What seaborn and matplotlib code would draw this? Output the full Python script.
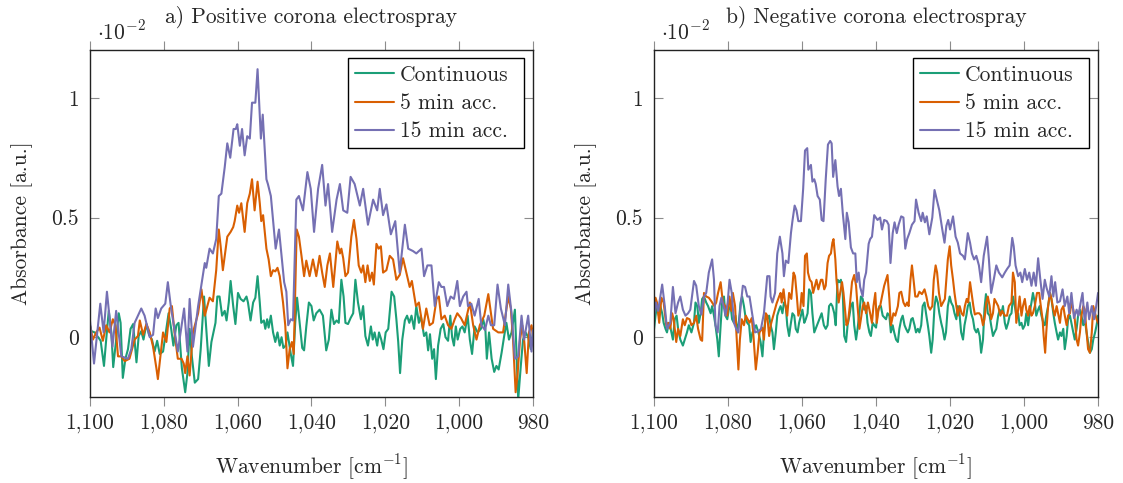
import matplotlib
matplotlib.use("Agg")
import matplotlib.pyplot as plt
from matplotlib.ticker import FuncFormatter, FixedLocator
import pandas as pd
import seaborn as sns

# ---------------- data (absorbance in units of 1e-2) ----------------
series_names = ["Continuous", "5 min acc.", "15 min acc."]
line_colors = ["#1b9e77", "#d95f02", "#7570b3"]
panel_titles = ["a) Positive corona electrospray", "b) Negative corona electrospray"]
x_ticks = [1100, 1080, 1060, 1040, 1020, 1000, 980]
y_ticks = [0, 0.5, 1]

pos_cont = [(1100.0, 0.05), (1099.6, 0.025), (1098.7, 0.02), (1097.8, 0.0), (1097.1, -0.015), (1096.2, -0.12), (1095.6, -0.01), (1094.9, 0.11), (1094.2, 0.02), (1093.7, -0.125), (1092.9, -0.01), (1092.2, 0.10), (1091.7, 0.06), (1091.1, -0.17), (1090.4, -0.09), (1089.7, -0.05), (1089.0, 0.035), (1088.3, 0.055), (1087.4, -0.105), (1086.8, 0.005), (1086.1, 0.025), (1085.5, -0.01), (1084.7, 0.055), (1084.0, 0.01), (1083.2, -0.01), (1082.5, -0.06), (1081.8, -0.015), (1081.1, -0.07), (1080.2, -0.06), (1079.6, 0.005), (1078.7, 0.10), (1078.0, 0.035), (1077.4, -0.035), (1076.6, 0.05), (1076.0, 0.06), (1075.1, -0.13), (1074.2, -0.23), (1073.6, -0.15), (1073.0, 0.035), (1072.4, -0.08), (1071.6, -0.19), (1070.7, -0.175), (1070.0, -0.05), (1069.6, 0.05), (1069.1, 0.17), (1068.5, 0.035), (1067.8, -0.12), (1067.1, -0.02), (1066.0, 0.06), (1065.5, 0.17), (1064.9, 0.17), (1064.2, 0.09), (1063.5, 0.11), (1063.0, 0.07), (1062.4, 0.145), (1061.9, 0.235), (1061.2, 0.13), (1060.6, 0.055), (1059.9, 0.185), (1059.2, 0.16), (1058.4, 0.15), (1057.6, 0.17), (1057.2, 0.145), (1056.5, 0.07), (1055.8, 0.145), (1055.2, 0.165), (1054.6, 0.255), (1054.0, 0.145), (1053.6, 0.06), (1052.9, 0.07), (1052.5, 0.035), (1052.0, 0.075), (1051.6, 0.04), (1051.0, 0.09), (1050.4, 0.02), (1049.8, -0.02), (1049.2, 0.02), (1048.6, -0.035), (1048.1, 0.0), (1047.6, -0.045), (1047.0, -0.035), (1046.5, 0.02), (1046.1, -0.02), (1045.6, -0.07), (1045.0, -0.12), (1044.4, 0.06), (1043.9, 0.165), (1043.2, 0.06), (1042.5, -0.045), (1042.0, -0.055), (1041.4, 0.045), (1040.7, 0.145), (1040.0, 0.13), (1039.4, 0.07), (1038.7, 0.10), (1037.8, 0.115), (1036.9, 0.09), (1036.0, -0.055), (1035.3, -0.01), (1034.6, 0.115), (1033.9, 0.055), (1033.2, 0.07), (1032.6, 0.06), (1031.9, 0.24), (1031.3, 0.17), (1030.8, 0.06), (1030.1, 0.055), (1029.4, 0.08), (1028.7, 0.10), (1028.1, 0.24), (1027.4, 0.145), (1026.6, 0.075), (1026.0, 0.13), (1025.4, 0.005), (1024.7, -0.035), (1023.9, 0.045), (1023.4, -0.01), (1022.9, 0.02), (1022.2, -0.035), (1021.7, 0.02), (1021.1, -0.01), (1020.5, -0.05), (1019.9, 0.02), (1019.2, 0.035), (1018.3, 0.19), (1017.6, 0.17), (1017.0, 0.075), (1016.5, -0.02), (1016.0, -0.15), (1015.4, -0.01), (1014.7, 0.07), (1014.1, 0.09), (1013.5, 0.06), (1012.9, 0.09), (1012.2, 0.035), (1011.6, 0.13), (1010.9, 0.06), (1010.4, 0.09), (1009.5, 0.005), (1008.9, 0.02), (1008.4, -0.055), (1007.9, 0.0125), (1007.3, -0.09), (1006.8, -0.05), (1006.3, -0.175), (1005.7, -0.035), (1005.0, 0.035), (1004.3, 0.055), (1003.7, 0.0), (1003.0, -0.015), (1002.4, 0.09), (1001.9, 0.0), (1001.4, -0.035), (1000.9, 0.045), (1000.4, -0.01), (999.7, 0.035), (999.1, 0.045), (998.5, 0.02), (997.7, 0.09), (997.1, -0.01), (996.5, -0.07), (995.8, 0.045), (995.0, 0.02), (994.1, 0.035), (993.5, 0.075), (992.9, 0.035), (992.5, -0.09), (991.9, 0.02), (991.2, -0.09), (990.5, -0.145), (989.9, -0.12), (989.3, -0.135), (988.5, -0.065), (987.8, 0.005), (987.2, 0.06), (986.5, -0.01), (985.8, 0.02), (984.9, 0.115), (984.0, -0.26), (983.3, -0.12), (982.7, -0.01), (982.0, 0.02), (981.3, 0.0), (980.6, -0.05), (980.0, 0.02)]

pos_5min = [(1100.0, 0.05), (1099.2, -0.01), (1098.3, 0.02), (1097.4, 0.04), (1096.5, -0.015), (1095.6, 0.05), (1094.7, 0.02), (1093.8, 0.075), (1093.1, 0.05), (1092.4, -0.08), (1091.5, -0.08), (1090.6, -0.10), (1089.3, -0.09), (1087.9, -0.01), (1087.0, 0.005), (1086.5, 0.07), (1085.6, 0.01), (1084.7, 0.055), (1083.8, 0.02), (1082.9, -0.04), (1082.0, -0.13), (1081.6, -0.175), (1080.2, 0.02), (1079.3, -0.02), (1078.4, 0.12), (1077.8, 0.13), (1077.1, 0.02), (1076.2, -0.09), (1075.2, -0.09), (1074.6, -0.11), (1074.2, -0.15), (1073.6, -0.08), (1073.0, -0.16), (1072.1, 0.02), (1070.7, 0.10), (1069.8, 0.20), (1068.9, 0.09), (1067.6, 0.165), (1066.7, 0.15), (1065.8, 0.28), (1065.1, 0.45), (1064.6, 0.38), (1064.0, 0.28), (1062.8, 0.42), (1061.9, 0.44), (1061.2, 0.46), (1060.8, 0.485), (1060.1, 0.55), (1059.6, 0.52), (1059.0, 0.56), (1058.1, 0.44), (1057.4, 0.56), (1056.7, 0.60), (1056.1, 0.66), (1055.4, 0.53), (1054.6, 0.65), (1054.0, 0.56), (1053.6, 0.485), (1053.1, 0.51), (1052.2, 0.37), (1051.6, 0.325), (1051.0, 0.255), (1050.4, 0.28), (1049.8, 0.275), (1049.2, 0.29), (1048.6, 0.255), (1047.7, 0.145), (1047.1, 0.05), (1046.5, -0.13), (1045.9, -0.05), (1045.3, -0.02), (1044.8, -0.07), (1044.0, 0.45), (1043.4, 0.42), (1042.7, 0.34), (1042.0, 0.255), (1041.4, 0.32), (1040.5, 0.255), (1039.6, 0.325), (1038.7, 0.255), (1037.8, 0.34), (1037.1, 0.27), (1036.4, 0.21), (1035.7, 0.30), (1035.0, 0.35), (1034.1, 0.21), (1033.0, 0.40), (1032.3, 0.35), (1031.9, 0.37), (1031.4, 0.33), (1030.8, 0.255), (1030.1, 0.27), (1029.2, 0.42), (1028.5, 0.49), (1027.8, 0.41), (1027.2, 0.30), (1026.5, 0.27), (1026.0, 0.30), (1025.4, 0.23), (1024.8, 0.30), (1024.2, 0.235), (1023.6, 0.27), (1023.1, 0.22), (1022.4, 0.39), (1021.8, 0.37), (1021.2, 0.38), (1020.6, 0.27), (1019.7, 0.28), (1018.8, 0.34), (1017.9, 0.325), (1017.0, 0.24), (1016.1, 0.26), (1015.2, 0.33), (1014.3, 0.27), (1013.4, 0.21), (1012.8, 0.235), (1011.7, 0.13), (1010.9, 0.145), (1010.2, 0.075), (1009.8, 0.035), (1008.9, 0.12), (1008.0, 0.05), (1007.1, 0.06), (1006.1, 0.16), (1005.5, 0.17), (1004.8, 0.075), (1003.9, 0.09), (1003.0, 0.05), (1002.1, 0.035), (1001.2, 0.075), (1000.5, 0.10), (999.5, 0.08), (998.5, 0.05), (997.1, 0.145), (996.2, 0.05), (995.3, -0.01), (994.4, 0.05), (993.2, 0.09), (992.1, 0.18), (990.8, 0.035), (989.4, 0.02), (988.1, 0.02), (986.7, 0.17), (986.0, 0.12), (985.4, -0.01), (984.7, -0.23), (984.2, -0.16), (983.5, -0.01), (982.9, 0.05), (982.4, -0.01), (981.7, -0.15), (981.1, 0.02), (980.4, 0.05), (980.0, 0.005)]

pos_15min = [(1100.0, 0.07), (1098.9, -0.11), (1097.2, 0.14), (1096.3, 0.02), (1095.4, 0.19), (1093.9, -0.04), (1092.9, 0.11), (1091.5, -0.08), (1089.7, -0.09), (1088.8, -0.05), (1087.9, 0.06), (1086.1, 0.12), (1085.2, 0.09), (1083.8, 0.0), (1082.9, 0.01), (1082.2, 0.12), (1081.6, 0.08), (1080.7, 0.12), (1079.6, 0.14), (1078.9, 0.23), (1078.1, 0.13), (1076.2, -0.06), (1074.5, 0.12), (1073.6, -0.06), (1073.0, 0.16), (1072.1, -0.04), (1070.7, 0.13), (1068.9, 0.31), (1068.5, 0.29), (1067.6, 0.37), (1066.7, 0.35), (1065.8, 0.41), (1065.1, 0.59), (1064.4, 0.60), (1063.5, 0.71), (1062.8, 0.81), (1062.0, 0.75), (1061.1, 0.87), (1060.5, 0.87), (1060.1, 0.89), (1059.4, 0.80), (1058.8, 0.87), (1058.1, 0.76), (1057.4, 0.84), (1056.7, 0.83), (1056.1, 0.98), (1055.2, 0.98), (1054.6, 1.12), (1053.7, 0.83), (1053.2, 0.93), (1052.2, 0.66), (1051.8, 0.64), (1051.0, 0.59), (1049.7, 0.37), (1048.8, 0.45), (1047.4, 0.23), (1046.8, 0.19), (1046.3, 0.05), (1045.6, 0.075), (1045.0, 0.07), (1044.1, 0.575), (1043.4, 0.59), (1042.3, 0.53), (1041.1, 0.69), (1040.2, 0.62), (1039.3, 0.44), (1038.2, 0.62), (1037.1, 0.72), (1036.2, 0.55), (1035.5, 0.64), (1034.4, 0.44), (1033.2, 0.575), (1032.3, 0.64), (1031.4, 0.53), (1030.3, 0.52), (1029.4, 0.67), (1028.3, 0.64), (1026.9, 0.55), (1026.0, 0.62), (1024.7, 0.47), (1023.3, 0.575), (1022.2, 0.53), (1021.5, 0.62), (1020.6, 0.51), (1019.7, 0.555), (1018.5, 0.43), (1017.3, 0.485), (1016.1, 0.27), (1014.7, 0.47), (1013.8, 0.37), (1012.5, 0.36), (1011.6, 0.35), (1010.2, 0.37), (1009.5, 0.255), (1008.6, 0.30), (1007.5, 0.30), (1006.6, 0.13), (1005.5, 0.23), (1004.8, 0.21), (1004.1, 0.21), (1003.2, 0.13), (1002.3, 0.17), (1001.4, 0.16), (1000.5, 0.235), (999.8, 0.13), (998.9, 0.17), (998.0, 0.19), (997.6, 0.13), (996.7, 0.14), (995.8, 0.09), (994.7, 0.16), (994.0, 0.05), (993.0, 0.03), (992.1, 0.09), (991.4, 0.05), (990.5, 0.05), (989.6, 0.22), (988.7, 0.12), (987.6, 0.05), (986.7, 0.22), (985.8, 0.10), (984.9, -0.09), (984.0, -0.08), (983.1, 0.09), (982.4, -0.01), (981.3, 0.09), (980.4, -0.06), (980.0, 0.03)]

neg_cont = [(1100.0, 0.035), (1099.6, 0.09), (1099.2, 0.13), (1098.7, 0.09), (1098.3, 0.13), (1097.8, 0.10), (1097.4, 0.06), (1096.9, 0.035), (1096.5, 0.02), (1096.0, 0.06), (1095.5, 0.035), (1094.9, -0.01), (1094.4, 0.075), (1093.9, 0.09), (1093.5, 0.035), (1092.9, -0.01), (1092.2, -0.035), (1091.7, -0.01), (1091.1, 0.02), (1090.6, 0.05), (1089.9, 0.02), (1089.2, 0.06), (1088.8, 0.145), (1088.3, 0.13), (1087.9, 0.06), (1087.4, 0.10), (1087.0, 0.16), (1086.5, 0.17), (1085.9, 0.145), (1085.4, 0.13), (1084.7, 0.10), (1084.3, 0.13), (1083.8, 0.09), (1083.4, 0.05), (1082.9, -0.01), (1082.5, -0.08), (1082.0, 0.05), (1081.6, 0.145), (1081.1, 0.17), (1080.7, 0.09), (1080.2, 0.075), (1079.8, 0.115), (1079.3, 0.13), (1078.9, 0.075), (1078.4, 0.06), (1078.0, 0.09), (1077.5, 0.02), (1077.1, 0.06), (1076.6, 0.145), (1076.2, 0.17), (1075.7, 0.13), (1075.2, 0.075), (1074.8, 0.06), (1074.3, 0.05), (1073.9, -0.02), (1073.4, 0.02), (1072.9, 0.035), (1072.4, 0.05), (1071.8, 0.02), (1071.2, -0.02), (1070.7, -0.08), (1070.3, 0.02), (1069.8, 0.09), (1069.4, 0.075), (1068.9, 0.09), (1068.5, 0.05), (1068.0, 0.02), (1067.6, -0.05), (1067.1, 0.02), (1066.7, 0.09), (1066.2, 0.115), (1065.8, 0.13), (1065.3, 0.10), (1064.9, 0.145), (1064.4, 0.13), (1064.0, 0.05), (1063.5, 0.005), (1063.1, 0.05), (1062.6, 0.10), (1062.1, 0.09), (1061.7, 0.035), (1061.2, 0.02), (1060.8, 0.06), (1060.3, 0.09), (1059.9, 0.115), (1059.4, 0.06), (1059.0, 0.075), (1058.5, 0.10), (1058.1, 0.20), (1057.6, 0.185), (1057.2, 0.10), (1056.7, 0.02), (1056.3, 0.035), (1055.7, 0.06), (1055.2, 0.08), (1054.7, 0.10), (1054.1, 0.05), (1053.6, 0.035), (1053.1, 0.05), (1052.7, 0.13), (1052.2, 0.14), (1051.8, 0.13), (1051.3, 0.10), (1050.9, 0.05), (1050.4, 0.24), (1049.9, 0.23), (1049.5, 0.24), (1049.0, 0.185), (1048.6, 0.005), (1048.1, -0.02), (1047.7, 0.05), (1047.2, 0.09), (1046.8, 0.13), (1046.3, 0.145), (1045.9, 0.05), (1045.4, -0.01), (1045.0, 0.035), (1044.5, 0.10), (1044.1, 0.17), (1043.6, 0.16), (1043.2, 0.115), (1042.7, 0.13), (1042.3, 0.06), (1041.8, 0.02), (1041.4, 0.005), (1040.9, 0.06), (1040.5, 0.05), (1040.0, 0.04), (1039.6, 0.10), (1039.1, 0.13), (1038.7, 0.13), (1038.2, 0.09), (1037.3, 0.075), (1036.9, 0.10), (1036.4, 0.09), (1036.0, 0.02), (1035.5, 0.05), (1035.1, 0.02), (1034.6, -0.01), (1034.1, -0.02), (1033.7, 0.035), (1033.2, 0.075), (1032.8, 0.09), (1032.3, 0.05), (1031.9, 0.035), (1031.4, 0.02), (1031.0, 0.035), (1030.5, 0.075), (1030.1, 0.08), (1029.6, 0.05), (1029.2, 0.02), (1028.7, 0.035), (1028.3, 0.02), (1027.8, 0.05), (1027.4, 0.13), (1026.9, 0.145), (1026.5, 0.10), (1026.0, 0.05), (1025.6, 0.005), (1025.1, -0.065), (1024.7, -0.01), (1024.2, 0.13), (1023.8, 0.17), (1023.3, 0.145), (1022.9, 0.10), (1022.4, 0.06), (1022.0, 0.035), (1021.5, -0.01), (1021.1, 0.02), (1020.6, 0.13), (1020.1, 0.17), (1019.7, 0.145), (1019.2, 0.13), (1018.8, 0.10), (1018.3, 0.075), (1017.9, 0.13), (1017.4, 0.09), (1017.0, 0.02), (1016.5, -0.01), (1016.1, 0.05), (1015.6, 0.09), (1015.2, 0.13), (1014.7, 0.145), (1014.3, 0.10), (1013.8, 0.075), (1013.4, 0.035), (1012.9, 0.02), (1012.5, 0.035), (1012.0, 0.005), (1011.6, -0.065), (1011.1, -0.01), (1010.7, 0.12), (1010.3, 0.18), (1009.8, 0.10), (1009.3, 0.09), (1008.9, 0.05), (1008.4, 0.005), (1008.0, 0.02), (1007.5, 0.035), (1007.0, 0.09), (1006.6, 0.115), (1006.1, 0.10), (1005.7, 0.13), (1005.2, 0.06), (1004.8, 0.035), (1004.3, 0.06), (1003.9, 0.09), (1003.4, 0.10), (1003.0, 0.17), (1002.5, 0.13), (1002.1, 0.09), (1001.6, 0.10), (1001.2, 0.05), (1000.7, 0.06), (1000.3, 0.035), (999.8, 0.05), (999.4, 0.10), (998.9, 0.05), (998.5, 0.10), (998.0, 0.145), (997.6, 0.185), (997.1, 0.145), (996.7, 0.09), (996.2, 0.115), (995.8, 0.13), (995.3, 0.09), (994.8, 0.06), (994.4, 0.05), (994.0, 0.09), (993.5, 0.13), (993.0, 0.185), (992.6, 0.16), (992.1, 0.10), (991.7, 0.06), (991.2, 0.02), (990.8, -0.01), (990.3, 0.02), (989.9, 0.005), (989.4, 0.035), (989.0, -0.05), (988.5, 0.005), (988.1, 0.075), (987.6, 0.09), (987.2, 0.06), (986.7, 0.02), (986.3, -0.01), (985.8, 0.035), (985.4, 0.09), (984.9, 0.115), (984.5, 0.09), (984.0, 0.05), (983.6, 0.075), (983.1, 0.02), (982.7, -0.02), (982.2, -0.065), (981.7, -0.05), (981.3, -0.01), (980.8, 0.02), (980.4, 0.05), (980.0, 0.09)]

neg_5min = [(1100.0, 0.13), (1099.6, 0.165), (1099.2, 0.145), (1098.6, 0.06), (1098.0, 0.165), (1097.4, 0.145), (1096.7, 0.05), (1096.2, 0.06), (1095.6, 0.035), (1095.1, 0.10), (1094.7, 0.075), (1094.0, -0.02), (1093.5, 0.035), (1092.9, 0.005), (1092.2, 0.075), (1091.7, 0.05), (1091.1, 0.08), (1090.4, 0.075), (1089.9, 0.05), (1089.2, 0.06), (1088.6, 0.09), (1088.1, 0.035), (1087.4, -0.01), (1087.0, -0.015), (1086.5, 0.185), (1085.9, 0.17), (1085.2, 0.165), (1084.5, 0.15), (1083.7, 0.13), (1083.2, 0.145), (1082.7, 0.185), (1082.0, 0.23), (1081.4, 0.145), (1080.8, 0.13), (1080.2, 0.09), (1079.6, 0.17), (1079.1, 0.11), (1078.7, 0.185), (1078.1, 0.13), (1077.8, 0.035), (1077.2, -0.135), (1076.8, -0.01), (1076.3, 0.075), (1075.7, 0.05), (1075.2, 0.09), (1074.7, 0.075), (1074.2, 0.06), (1073.6, 0.08), (1073.2, 0.02), (1072.5, -0.135), (1072.0, -0.065), (1071.5, 0.02), (1070.7, 0.04), (1070.3, -0.01), (1069.8, 0.10), (1069.4, 0.09), (1068.9, 0.005), (1068.4, 0.055), (1067.6, 0.10), (1066.9, 0.14), (1066.2, 0.17), (1065.8, 0.185), (1065.5, 0.145), (1065.0, 0.20), (1064.6, 0.145), (1064.0, 0.09), (1063.5, 0.185), (1062.9, 0.16), (1062.3, 0.27), (1061.9, 0.255), (1061.4, 0.17), (1061.0, 0.09), (1060.5, 0.115), (1060.1, 0.185), (1059.6, 0.13), (1059.2, 0.34), (1058.7, 0.35), (1058.4, 0.27), (1057.9, 0.24), (1057.4, 0.23), (1057.0, 0.185), (1056.5, 0.215), (1056.1, 0.24), (1055.6, 0.20), (1054.9, 0.24), (1054.5, 0.24), (1054.0, 0.20), (1053.6, 0.215), (1053.1, 0.31), (1052.7, 0.34), (1052.2, 0.35), (1051.8, 0.395), (1051.5, 0.41), (1051.0, 0.325), (1050.7, 0.24), (1050.1, 0.145), (1049.7, 0.185), (1049.2, 0.23), (1048.8, 0.185), (1048.3, 0.10), (1048.0, 0.05), (1047.6, 0.06), (1047.1, 0.13), (1046.5, 0.23), (1045.9, 0.26), (1045.4, 0.215), (1045.0, 0.13), (1044.5, 0.035), (1044.1, 0.075), (1043.6, 0.13), (1043.2, 0.145), (1042.7, 0.10), (1042.2, 0.145), (1041.6, 0.10), (1041.1, 0.06), (1040.7, 0.13), (1040.2, 0.185), (1039.8, 0.06), (1039.3, 0.12), (1038.9, 0.13), (1038.4, 0.17), (1037.8, 0.215), (1037.3, 0.24), (1036.9, 0.26), (1036.4, 0.16), (1036.0, 0.05), (1035.3, 0.10), (1034.8, 0.09), (1034.1, 0.13), (1033.7, 0.185), (1033.2, 0.19), (1032.6, 0.145), (1032.1, 0.13), (1031.6, 0.145), (1031.2, 0.13), (1030.7, 0.24), (1030.3, 0.30), (1029.8, 0.23), (1029.4, 0.17), (1028.8, 0.17), (1028.3, 0.19), (1027.6, 0.18), (1026.9, 0.20), (1026.4, 0.17), (1025.9, 0.13), (1025.4, 0.115), (1024.8, 0.13), (1024.4, 0.24), (1023.9, 0.30), (1023.5, 0.27), (1023.0, 0.185), (1022.4, 0.13), (1021.9, 0.145), (1021.4, 0.16), (1021.0, 0.24), (1020.6, 0.325), (1020.1, 0.38), (1019.7, 0.30), (1019.2, 0.24), (1018.8, 0.185), (1018.3, 0.13), (1017.9, 0.09), (1017.4, 0.13), (1016.9, 0.10), (1016.4, 0.09), (1016.0, 0.13), (1015.5, 0.16), (1015.1, 0.145), (1014.6, 0.23), (1014.2, 0.185), (1013.7, 0.13), (1013.3, 0.095), (1012.7, 0.10), (1012.1, 0.10), (1011.6, 0.09), (1011.1, 0.05), (1010.7, 0.075), (1010.2, 0.145), (1009.8, 0.17), (1009.3, 0.13), (1008.9, 0.075), (1008.4, 0.10), (1008.0, 0.16), (1007.5, 0.145), (1007.0, 0.13), (1006.4, 0.09), (1005.9, 0.11), (1005.2, 0.09), (1004.6, 0.09), (1004.1, 0.13), (1003.4, 0.145), (1003.0, 0.27), (1002.5, 0.23), (1002.1, 0.06), (1001.6, 0.115), (1001.2, 0.17), (1000.7, 0.09), (1000.3, 0.13), (999.8, 0.16), (999.4, 0.115), (998.9, 0.09), (998.5, 0.13), (998.0, 0.09), (997.6, 0.10), (997.1, 0.13), (996.5, 0.185), (995.9, 0.185), (995.6, 0.145), (995.0, 0.075), (994.7, 0.005), (994.3, -0.065), (994.0, 0.02), (993.5, 0.13), (993.0, 0.185), (992.6, 0.16), (992.1, 0.115), (991.7, 0.09), (991.2, 0.13), (990.8, 0.10), (990.3, 0.06), (989.9, 0.115), (989.4, 0.13), (989.0, 0.09), (988.5, 0.05), (988.1, 0.09), (987.6, 0.10), (987.2, 0.145), (986.7, 0.115), (986.3, 0.075), (985.8, -0.01), (985.4, -0.035), (984.9, 0.02), (984.5, 0.09), (984.0, 0.13), (983.6, 0.115), (983.1, 0.02), (982.7, -0.05), (982.2, -0.065), (981.7, 0.02), (981.3, 0.13), (980.8, 0.10), (980.4, 0.075), (980.0, 0.06)]

neg_15min = [(1100.0, 0.09), (1099.5, 0.145), (1098.9, 0.11), (1097.8, 0.22), (1097.1, 0.13), (1096.5, 0.035), (1095.6, 0.06), (1094.9, 0.21), (1094.2, 0.10), (1093.5, 0.145), (1092.9, 0.17), (1092.2, 0.115), (1091.5, 0.09), (1090.8, 0.10), (1090.2, 0.115), (1089.2, 0.235), (1088.6, 0.215), (1087.9, 0.13), (1087.2, 0.095), (1086.5, 0.17), (1085.9, 0.185), (1085.2, 0.27), (1084.3, 0.325), (1083.8, 0.24), (1083.4, 0.05), (1082.8, 0.02), (1082.3, 0.13), (1081.8, 0.165), (1081.2, 0.13), (1080.7, 0.09), (1080.1, 0.145), (1079.6, 0.24), (1079.0, 0.185), (1078.4, 0.06), (1077.8, 0.035), (1077.2, 0.02), (1076.6, 0.13), (1076.0, 0.215), (1075.4, 0.21), (1074.8, 0.17), (1074.2, 0.17), (1073.4, 0.09), (1072.7, 0.02), (1071.8, 0.025), (1071.1, 0.035), (1070.3, 0.10), (1069.4, 0.255), (1068.8, 0.255), (1068.5, 0.17), (1068.0, 0.145), (1067.3, 0.185), (1066.7, 0.35), (1066.0, 0.42), (1065.3, 0.35), (1064.9, 0.255), (1064.4, 0.32), (1063.7, 0.31), (1063.0, 0.435), (1062.6, 0.485), (1062.0, 0.55), (1061.5, 0.53), (1061.0, 0.485), (1060.3, 0.485), (1059.7, 0.62), (1059.2, 0.78), (1058.6, 0.79), (1058.3, 0.70), (1057.6, 0.72), (1057.2, 0.65), (1056.7, 0.66), (1056.3, 0.64), (1055.8, 0.59), (1055.2, 0.575), (1054.7, 0.49), (1054.2, 0.485), (1053.6, 0.66), (1053.0, 0.805), (1052.4, 0.82), (1052.0, 0.81), (1051.6, 0.67), (1051.0, 0.74), (1050.4, 0.63), (1050.0, 0.59), (1049.5, 0.62), (1049.0, 0.52), (1048.3, 0.41), (1047.9, 0.52), (1047.4, 0.48), (1046.8, 0.375), (1046.2, 0.35), (1045.6, 0.35), (1045.2, 0.23), (1044.7, 0.27), (1044.3, 0.21), (1043.6, 0.17), (1043.2, 0.24), (1042.7, 0.27), (1042.0, 0.39), (1041.6, 0.41), (1041.1, 0.42), (1040.5, 0.51), (1039.6, 0.49), (1038.9, 0.50), (1038.4, 0.45), (1037.8, 0.49), (1037.1, 0.485), (1036.6, 0.47), (1036.1, 0.31), (1035.5, 0.435), (1035.0, 0.48), (1034.4, 0.435), (1033.9, 0.47), (1033.2, 0.505), (1032.6, 0.50), (1032.1, 0.37), (1031.6, 0.41), (1031.0, 0.435), (1030.3, 0.47), (1029.6, 0.485), (1029.2, 0.575), (1028.5, 0.52), (1027.8, 0.485), (1027.4, 0.52), (1026.8, 0.48), (1026.3, 0.505), (1025.6, 0.43), (1024.8, 0.50), (1024.2, 0.615), (1023.6, 0.575), (1022.9, 0.53), (1022.1, 0.45), (1021.5, 0.395), (1021.0, 0.465), (1020.5, 0.49), (1020.0, 0.45), (1019.2, 0.505), (1018.5, 0.42), (1017.9, 0.395), (1017.3, 0.35), (1016.5, 0.34), (1016.0, 0.325), (1015.2, 0.435), (1014.6, 0.395), (1014.1, 0.35), (1013.5, 0.325), (1012.9, 0.34), (1012.2, 0.30), (1011.6, 0.23), (1010.9, 0.34), (1010.0, 0.42), (1009.5, 0.325), (1008.9, 0.185), (1008.2, 0.24), (1007.5, 0.30), (1006.8, 0.27), (1005.9, 0.25), (1005.2, 0.27), (1004.6, 0.285), (1003.9, 0.30), (1003.2, 0.415), (1002.8, 0.38), (1002.3, 0.30), (1001.6, 0.255), (1001.0, 0.27), (1000.5, 0.23), (999.8, 0.285), (999.2, 0.24), (998.6, 0.27), (998.0, 0.215), (997.4, 0.27), (996.8, 0.215), (996.2, 0.33), (995.6, 0.24), (995.0, 0.16), (994.4, 0.24), (993.9, 0.205), (993.2, 0.17), (992.6, 0.255), (992.1, 0.17), (991.6, 0.23), (991.0, 0.145), (990.3, 0.15), (989.6, 0.20), (989.0, 0.13), (988.3, 0.17), (987.8, 0.10), (987.2, 0.185), (986.5, 0.08), (985.8, 0.115), (985.3, 0.09), (984.7, 0.145), (984.2, 0.185), (983.6, 0.06), (982.9, 0.145), (982.4, 0.075), (981.7, 0.13), (981.1, 0.075), (980.5, 0.13), (980.0, 0.185)]

panels = [[pos_cont, pos_5min, pos_15min], [neg_cont, neg_5min, neg_15min]]

# ---------------- style ----------------
sns.set_theme(style="white")
plt.rcParams["font.family"] = ["cmr10", "DejaVu Serif"]
plt.rcParams["mathtext.fontset"] = "cm"
plt.rcParams["axes.formatter.use_mathtext"] = True
plt.rcParams["axes.unicode_minus"] = False
FS = 15.5

fig = plt.figure(figsize=(11.23, 4.83), dpi=100)
ax_rects = [[0.0801, 0.178, 0.3945, 0.7184], [0.5824, 0.178, 0.3954, 0.7184]]

for rect, title, data in zip(ax_rects, panel_titles, panels):
    ax = fig.add_axes(rect)
    frames = []
    for name, pairs in zip(series_names, data):
        w, a = zip(*pairs)
        frames.append(pd.DataFrame({"w": w, "a": a, "series": name}))
    df = pd.concat(frames, ignore_index=True)
    sns.lineplot(data=df, x="w", y="a", hue="series", hue_order=series_names,
                 palette=line_colors, estimator=None, sort=True, linewidth=1.5,
                 ax=ax)
    ax.set_xlim(1100, 980)
    ax.set_ylim(-0.25, 1.2)
    ax.xaxis.set_major_locator(FixedLocator(x_ticks))
    ax.yaxis.set_major_locator(FixedLocator(y_ticks))
    ax.xaxis.set_major_formatter(FuncFormatter(lambda v, p: f"{v:,.0f}"))
    ax.yaxis.set_major_formatter(FuncFormatter(lambda v, p: f"{v:g}"))
    ax.tick_params(axis="x", which="major", direction="out", length=6.5, width=0.8,
                   color="#8c8c8c", top=True, bottom=True, labelsize=FS, pad=5)
    ax.tick_params(axis="y", which="major", direction="in", length=6.5, width=0.8,
                   color="#8c8c8c", left=True, right=True, labelsize=FS, pad=8)
    for sp in ax.spines.values():
        sp.set_visible(True)
        sp.set_color("#222222")
        sp.set_linewidth(1.0)
    ax.set_xlabel(r"Wavenumber [cm$^{-1}$]", fontsize=FS)
    ax.xaxis.set_label_coords(0.5, -0.16)
    ax.set_ylabel("Absorbance [a.u.]", fontsize=FS)
    ax.yaxis.set_label_coords(-0.128, 0.5)
    ax.set_title(title, fontsize=FS, pad=20)
    ax.text(0.016, 1.03, r"$\cdot 10^{-2}$", transform=ax.transAxes,
            fontsize=FS, va="baseline", ha="left")
    handles, labels = ax.get_legend_handles_labels()
    leg = ax.legend(handles, labels, loc="upper left",
                    bbox_to_anchor=(0.583, 0.717, 0.397, 0.259), mode="expand",
                    borderaxespad=0, fontsize=FS, frameon=True,
                    fancybox=False, edgecolor="black", framealpha=1,
                    handlelength=1.8, handletextpad=0.28, labelspacing=0.4,
                    borderpad=0.33)
    leg.get_frame().set_linewidth(1.0)

fig.savefig("out.png", dpi=100)
